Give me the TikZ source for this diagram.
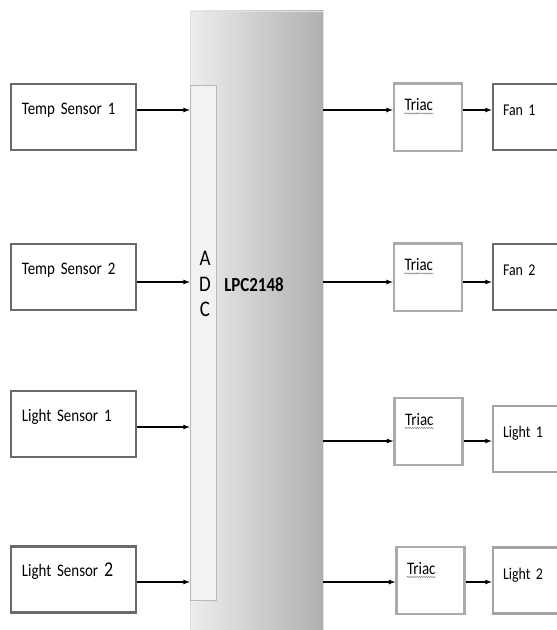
\documentclass[tikz,border=0pt]{standalone}
\usepackage{fontspec}
\setmainfont{Carlito}[FakeStretch=0.85]
\usetikzlibrary{arrows, positioning, decorations.pathmorphing}

\newcommand{\spellword}[1]{\tikz[baseline=(w.base), x=1cm, y=1cm]{\node[inner sep=0pt, draw=none, fill=none, minimum width=0pt, minimum height=0pt, text width=, text height=, text depth=, align=left] (w) {#1}; \draw[decorate, decoration={snake, amplitude=0.5pt, segment length=2pt}, black!45, line width=0.5pt] ([yshift=-2.4pt]w.base west) -- ([yshift=-2.4pt]w.base east);}}

\begin{document}
\begin{tikzpicture}[
    x=0.03cm, y=-0.03cm,
    sensor/.style={draw=black!58, line width=2.2pt, fill=white, minimum width=3.75cm, text width=3.1cm, inner xsep=0.33cm, inner ysep=0pt, text height=0.9cm, text depth=1.08cm, align=left, font=\fontsize{15}{17}\selectfont},
    triac/.style={draw=black!33, line width=2pt, fill=white, minimum width=2.04cm, text width=1.44cm, inner xsep=0.3cm, inner ysep=0pt, text height=0.82cm, text depth=1.2cm, align=left, font=\fontsize{15}{17}\selectfont},
    fan/.style={draw=black!58, line width=2.2pt, fill=white, minimum width=2.25cm, text width=1.65cm, inner xsep=0.3cm, inner ysep=0pt, text height=0.95cm, text depth=1.03cm, align=left, font=\fontsize{14}{16}\selectfont},
    lamp/.style={fan, draw=black!36},
    mcu/.style={draw=black!12, left color=black!7, middle color=black!13, right color=black!31, minimum width=3.99cm, minimum height=18.6cm, inner sep=0pt},
    adc/.style={draw=black!28, fill=black!5, minimum width=0.78cm, minimum height=15.45cm, inner sep=0pt},
    arrow/.style={-latex, line width=0.9pt, color=black}
]
\useasboundingbox (0,0) rectangle (557,630);
\clip (0,0) rectangle (557,630);

% controller with the ADC strip
\node[mcu] (mcu) at (256.5, 321) {};
\node[adc] (adc) at (203, 342.5) {};
\node[font=\fontsize{19}{22}\selectfont, align=center] (adclabel) at (205, 284) {A\\D\\C};
\node[font=\bfseries\fontsize{17}{18}\selectfont] (lpc) at (254, 285) {LPC2148};

% sensors
\node[sensor] (ts1) at (73.5, 117) {Temp Sensor 1};
\node[sensor] (ts2) at (73.5, 277) {Temp Sensor 2};
\node[sensor] (ls1) at (73.5, 424) {Light Sensor 1};
\node[sensor] (ls2) at (73.5, 579.5) {Light Sensor {\fontsize{18}{17}\selectfont 2}};

% triacs
\node[triac] (tr1) at (428, 117) {\spellword{Triac}};
\node[triac] (tr2) at (428, 277) {\spellword{Triac}};
\node[triac] (tr3) at (428.5, 431.5) {\spellword{Triac}};
\node[triac] (tr4) at (430.5, 580.5) {\spellword{Triac}};

% loads
\node[fan] (fan1) at (530.5, 117) {Fan 1};
\node[fan] (fan2) at (530.5, 277) {Fan 2};
\node[lamp] (lt1) at (530.5, 439) {Light 1};
\node[lamp] (lt2) at (530.5, 580.5) {Light 2};

% inputs
\draw[arrow] ([yshift=0.21cm]ts1.east) -- ([yshift=0.21cm]ts1.east -| mcu.west);
\draw[arrow] ([yshift=-0.15cm]ts2.east) -- ([yshift=-0.15cm]ts2.east -| mcu.west);
\draw[arrow] ([yshift=-0.09cm]ls1.east) -- ([yshift=-0.09cm]ls1.east -| mcu.west);
\draw[arrow] ([yshift=-0.075cm]ls2.east) -- ([yshift=-0.075cm]ls2.east -| mcu.west);

% outputs
\draw[arrow] ([yshift=0.21cm]tr1.west -| mcu.east) -- ([yshift=0.21cm]tr1.west);
\draw[arrow] ([yshift=-0.15cm]tr2.west -| mcu.east) -- ([yshift=-0.15cm]tr2.west);
\draw[arrow] ([yshift=-0.285cm]tr3.west -| mcu.east) -- ([yshift=-0.285cm]tr3.west);
\draw[arrow] ([yshift=-0.045cm]tr4.west -| mcu.east) -- ([yshift=-0.045cm]tr4.west);

\draw[arrow] ([yshift=0.21cm]tr1.east) -- ([yshift=0.21cm]tr1.east -| fan1.west);
\draw[arrow] ([yshift=-0.15cm]tr2.east) -- ([yshift=-0.15cm]tr2.east -| fan2.west);
\draw[arrow] ([yshift=-0.285cm]tr3.east) -- ([yshift=-0.285cm]tr3.east -| lt1.west);
\draw[arrow] ([yshift=-0.045cm]tr4.east) -- ([yshift=-0.045cm]tr4.east -| lt2.west);

\end{tikzpicture}
\end{document}
